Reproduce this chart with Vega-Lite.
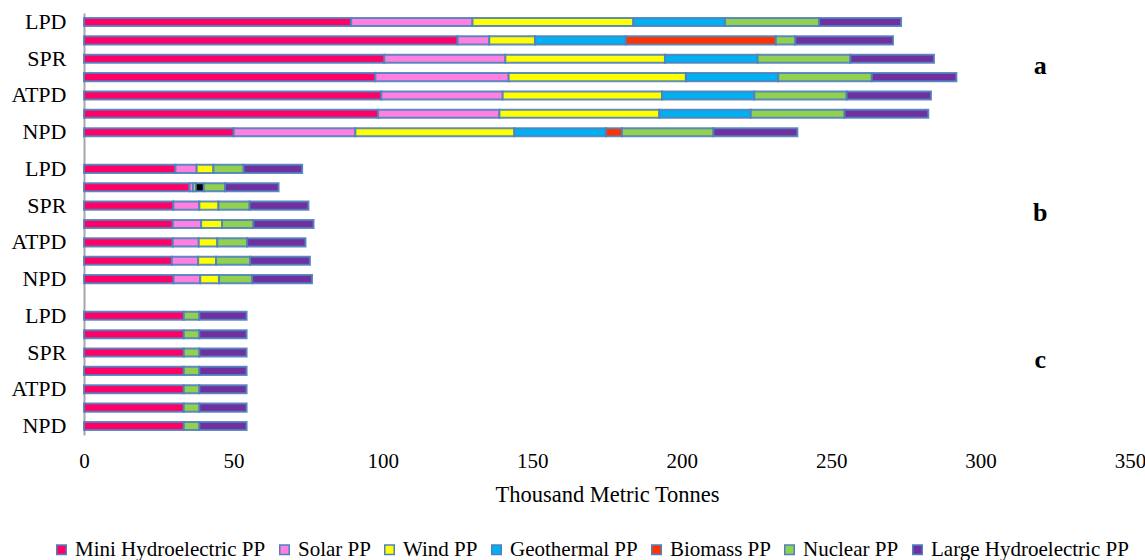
{
  "$schema": "https://vega.github.io/schema/vega-lite/v6.json",
  "width": 1046,
  "height": 422,
  "autosize": {"type": "none"},
  "padding": {"left": 84, "top": 13, "right": 15, "bottom": 125},
  "background": "white",
  "config": {
    "view": {"stroke": null},
    "font": "Liberation Serif",
    "axis": {"labelFont": "Liberation Serif", "titleFont": "Liberation Serif", "labelColor": "#000", "titleColor": "#000"},
    "legend": {"labelFont": "Liberation Serif"}
  },
  "datasets": {
    "bars": [
      {"bar": "LPD|a", "series": "Mini Hydroelectric PP", "v": 89.4},
      {"bar": "LPD|a", "series": "Solar PP", "v": 40.6},
      {"bar": "LPD|a", "series": "Wind PP", "v": 53.8},
      {"bar": "LPD|a", "series": "Geothermal PP", "v": 30.7},
      {"bar": "LPD|a", "series": "Nuclear PP", "v": 31.5},
      {"bar": "LPD|a", "series": "Large Hydroelectric PP", "v": 27.4},
      {"bar": "|a2", "series": "Mini Hydroelectric PP", "v": 125.0},
      {"bar": "|a2", "series": "Solar PP", "v": 10.6},
      {"bar": "|a2", "series": "Wind PP", "v": 15.3},
      {"bar": "|a2", "series": "Geothermal PP", "v": 30.4},
      {"bar": "|a2", "series": "Biomass PP", "v": 50.2},
      {"bar": "|a2", "series": "Nuclear PP", "v": 6.5},
      {"bar": "|a2", "series": "Large Hydroelectric PP", "v": 32.7},
      {"bar": "SPR|a", "series": "Mini Hydroelectric PP", "v": 100.5},
      {"bar": "SPR|a", "series": "Solar PP", "v": 40.5},
      {"bar": "SPR|a", "series": "Wind PP", "v": 53.4},
      {"bar": "SPR|a", "series": "Geothermal PP", "v": 31.0},
      {"bar": "SPR|a", "series": "Nuclear PP", "v": 31.0},
      {"bar": "SPR|a", "series": "Large Hydroelectric PP", "v": 28.0},
      {"bar": "|a4", "series": "Mini Hydroelectric PP", "v": 97.5},
      {"bar": "|a4", "series": "Solar PP", "v": 44.6},
      {"bar": "|a4", "series": "Wind PP", "v": 59.3},
      {"bar": "|a4", "series": "Geothermal PP", "v": 30.9},
      {"bar": "|a4", "series": "Nuclear PP", "v": 31.3},
      {"bar": "|a4", "series": "Large Hydroelectric PP", "v": 28.3},
      {"bar": "ATPD|a", "series": "Mini Hydroelectric PP", "v": 99.5},
      {"bar": "ATPD|a", "series": "Solar PP", "v": 40.6},
      {"bar": "ATPD|a", "series": "Wind PP", "v": 53.3},
      {"bar": "ATPD|a", "series": "Geothermal PP", "v": 30.9},
      {"bar": "ATPD|a", "series": "Nuclear PP", "v": 30.9},
      {"bar": "ATPD|a", "series": "Large Hydroelectric PP", "v": 28.2},
      {"bar": "|a6", "series": "Mini Hydroelectric PP", "v": 98.4},
      {"bar": "|a6", "series": "Solar PP", "v": 40.6},
      {"bar": "|a6", "series": "Wind PP", "v": 53.5},
      {"bar": "|a6", "series": "Geothermal PP", "v": 30.6},
      {"bar": "|a6", "series": "Nuclear PP", "v": 31.4},
      {"bar": "|a6", "series": "Large Hydroelectric PP", "v": 28.0},
      {"bar": "NPD|a", "series": "Mini Hydroelectric PP", "v": 50.1},
      {"bar": "NPD|a", "series": "Solar PP", "v": 40.7},
      {"bar": "NPD|a", "series": "Wind PP", "v": 53.2},
      {"bar": "NPD|a", "series": "Geothermal PP", "v": 30.6},
      {"bar": "NPD|a", "series": "Biomass PP", "v": 5.4},
      {"bar": "NPD|a", "series": "Nuclear PP", "v": 30.6},
      {"bar": "NPD|a", "series": "Large Hydroelectric PP", "v": 28.1},

      {"bar": "LPD|b", "series": "Mini Hydroelectric PP", "v": 30.6},
      {"bar": "LPD|b", "series": "Solar PP", "v": 7.1},
      {"bar": "LPD|b", "series": "Wind PP", "v": 5.6},
      {"bar": "LPD|b", "series": "Nuclear PP", "v": 10.1},
      {"bar": "LPD|b", "series": "Large Hydroelectric PP", "v": 19.6},
      {"bar": "|b2", "series": "Mini Hydroelectric PP", "v": 35.3},
      {"bar": "|b2", "series": "Solar PP", "v": 1.2},
      {"bar": "|b2", "series": "Wind PP", "v": 0.9},
      {"bar": "|b2", "series": "Other", "v": 2.7},
      {"bar": "|b2", "series": "Nuclear PP", "v": 7.1},
      {"bar": "|b2", "series": "Large Hydroelectric PP", "v": 17.9},
      {"bar": "SPR|b", "series": "Mini Hydroelectric PP", "v": 29.9},
      {"bar": "SPR|b", "series": "Solar PP", "v": 8.7},
      {"bar": "SPR|b", "series": "Wind PP", "v": 6.4},
      {"bar": "SPR|b", "series": "Nuclear PP", "v": 10.4},
      {"bar": "SPR|b", "series": "Large Hydroelectric PP", "v": 19.7},
      {"bar": "|b4", "series": "Mini Hydroelectric PP", "v": 29.7},
      {"bar": "|b4", "series": "Solar PP", "v": 9.5},
      {"bar": "|b4", "series": "Wind PP", "v": 7.0},
      {"bar": "|b4", "series": "Nuclear PP", "v": 10.5},
      {"bar": "|b4", "series": "Large Hydroelectric PP", "v": 20.1},
      {"bar": "ATPD|b", "series": "Mini Hydroelectric PP", "v": 29.7},
      {"bar": "ATPD|b", "series": "Solar PP", "v": 8.7},
      {"bar": "ATPD|b", "series": "Wind PP", "v": 6.2},
      {"bar": "ATPD|b", "series": "Nuclear PP", "v": 10.0},
      {"bar": "ATPD|b", "series": "Large Hydroelectric PP", "v": 19.5},
      {"bar": "|b6", "series": "Mini Hydroelectric PP", "v": 29.4},
      {"bar": "|b6", "series": "Solar PP", "v": 8.8},
      {"bar": "|b6", "series": "Wind PP", "v": 6.0},
      {"bar": "|b6", "series": "Nuclear PP", "v": 11.4},
      {"bar": "|b6", "series": "Large Hydroelectric PP", "v": 20.0},
      {"bar": "NPD|b", "series": "Mini Hydroelectric PP", "v": 30.0},
      {"bar": "NPD|b", "series": "Solar PP", "v": 8.9},
      {"bar": "NPD|b", "series": "Wind PP", "v": 6.3},
      {"bar": "NPD|b", "series": "Nuclear PP", "v": 11.1},
      {"bar": "NPD|b", "series": "Large Hydroelectric PP", "v": 20.0},

      {"bar": "LPD|c", "series": "Mini Hydroelectric PP", "v": 33.4},
      {"bar": "LPD|c", "series": "Nuclear PP", "v": 5.2},
      {"bar": "LPD|c", "series": "Large Hydroelectric PP", "v": 15.8},
      {"bar": "|c2", "series": "Mini Hydroelectric PP", "v": 33.4},
      {"bar": "|c2", "series": "Nuclear PP", "v": 5.2},
      {"bar": "|c2", "series": "Large Hydroelectric PP", "v": 15.8},
      {"bar": "SPR|c", "series": "Mini Hydroelectric PP", "v": 33.4},
      {"bar": "SPR|c", "series": "Nuclear PP", "v": 5.2},
      {"bar": "SPR|c", "series": "Large Hydroelectric PP", "v": 15.8},
      {"bar": "|c4", "series": "Mini Hydroelectric PP", "v": 33.4},
      {"bar": "|c4", "series": "Nuclear PP", "v": 5.2},
      {"bar": "|c4", "series": "Large Hydroelectric PP", "v": 15.8},
      {"bar": "ATPD|c", "series": "Mini Hydroelectric PP", "v": 33.4},
      {"bar": "ATPD|c", "series": "Nuclear PP", "v": 5.2},
      {"bar": "ATPD|c", "series": "Large Hydroelectric PP", "v": 15.8},
      {"bar": "|c6", "series": "Mini Hydroelectric PP", "v": 33.4},
      {"bar": "|c6", "series": "Nuclear PP", "v": 5.2},
      {"bar": "|c6", "series": "Large Hydroelectric PP", "v": 15.8},
      {"bar": "NPD|c", "series": "Mini Hydroelectric PP", "v": 33.4},
      {"bar": "NPD|c", "series": "Nuclear PP", "v": 5.2},
      {"bar": "NPD|c", "series": "Large Hydroelectric PP", "v": 15.8}
    ],
    "groups": [
      {"bar": "|a4", "label": "a", "v": 320},
      {"bar": "|b4", "label": "b", "v": 320},
      {"bar": "|c4", "label": "c", "v": 320}
    ]
  },
  "layer": [
    {
      "data": {"name": "bars"},
      "transform": [
        {"calculate": "indexof(['Mini Hydroelectric PP','Solar PP','Wind PP','Geothermal PP','Other','Biomass PP','Nuclear PP','Large Hydroelectric PP'], datum.series)", "as": "k"}
      ],
      "mark": {"type": "bar", "stroke": "#4f81bd", "strokeWidth": 2, "strokeOpacity": 0.9},
      "encoding": {
        "y": {
          "field": "bar",
          "type": "nominal",
          "scale": {
            "domain": ["LPD|a", "|a2", "SPR|a", "|a4", "ATPD|a", "|a6", "NPD|a", "|g1",
                       "LPD|b", "|b2", "SPR|b", "|b4", "ATPD|b", "|b6", "NPD|b", "|g2",
                       "LPD|c", "|c2", "SPR|c", "|c4", "ATPD|c", "|c6", "NPD|c"],
            "paddingInner": 0.56,
            "paddingOuter": 0.27
          },
          "axis": {
            "title": null,
            "labelExpr": "split(datum.value, '|')[0]",
            "labelFontSize": 22,
            "labelPadding": 18,
            "ticks": false,
            "domainColor": "#a6a6a6",
            "domainWidth": 2,
            "grid": false
          }
        },
        "x": {
          "field": "v",
          "type": "quantitative",
          "stack": "zero",
          "scale": {"domain": [0, 350], "nice": false},
          "axis": {
            "title": "Thousand Metric Tonnes",
            "values": [0, 50, 100, 150, 200, 250, 300, 350],
            "labelFontSize": 21,
            "labelFlush": false,
            "titleFontSize": 22.5,
            "titleFontWeight": "normal",
            "labelPadding": 15,
            "titlePadding": 12,
            "domain": false,
            "ticks": false,
            "grid": false
          }
        },
        "color": {
          "field": "series",
          "type": "nominal",
          "scale": {
            "domain": ["Mini Hydroelectric PP", "Solar PP", "Wind PP", "Geothermal PP", "Biomass PP", "Nuclear PP", "Large Hydroelectric PP", "Other"],
            "range": ["#ff0066", "#ff80e0", "#ffff00", "#00b0f0", "#ff3300", "#92d050", "#7030a0", "#000000"]
          },
          "legend": {
            "title": null,
            "values": ["Mini Hydroelectric PP", "Solar PP", "Wind PP", "Geothermal PP", "Biomass PP", "Nuclear PP", "Large Hydroelectric PP"],
            "orient": "none",
            "direction": "horizontal",
            "legendX": -33,
            "legendY": 526,
            "symbolType": "square",
            "symbolSize": 90,
            "symbolStrokeColor": "#4f81bd",
            "symbolStrokeWidth": 1.5,
            "symbolOpacity": 1,
            "labelFontSize": 21,
            "labelOffset": 3,
            "columnPadding": 8,
            "labelLimit": 400,
            "labelColor": "#000"
          }
        },
        "order": {"field": "k", "type": "quantitative"}
      }
    },
    {
      "data": {"name": "groups"},
      "mark": {"type": "text", "font": "Liberation Serif", "fontWeight": "bold", "fontSize": 26, "dy": -11, "color": "#000"},
      "encoding": {
        "y": {"field": "bar", "type": "nominal"},
        "x": {"field": "v", "type": "quantitative"},
        "text": {"field": "label"}
      }
    }
  ]
}
